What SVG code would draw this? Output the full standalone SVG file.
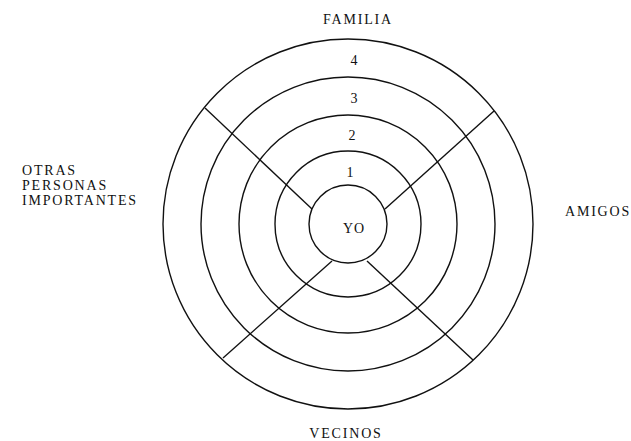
<svg xmlns="http://www.w3.org/2000/svg" width="631" height="441" viewBox="0 0 631 441">
<style>
.ring{fill:none;stroke:#111;stroke-width:1.4}
.spoke{stroke:#111;stroke-width:1.4;fill:none}
text{font-family:"Liberation Serif","Times New Roman",serif;font-size:14px;fill:#111}
.lab{letter-spacing:1.8px}
.num{text-anchor:middle}
</style>
<rect width="631" height="441" fill="#fff"/>
<g id="rings">
<circle class="ring" cx="348" cy="224" r="185"/>
<circle class="ring" cx="348" cy="224" r="147"/>
<circle class="ring" cx="348" cy="224" r="109"/>
<circle class="ring" cx="348" cy="224" r="73"/>
</g>
<g id="connectors">
<line class="spoke" x1="312" y1="209" x2="205" y2="108"/>
<line class="spoke" x1="385" y1="209" x2="494" y2="111"/>
<line class="spoke" x1="332" y1="261" x2="223" y2="358"/>
<line class="spoke" x1="367" y1="261" x2="473" y2="360"/>
</g>
<g id="yo">
<circle class="ring" cx="348" cy="224" r="39"/>
<text x="354" y="233" class="num" style="letter-spacing:1px">YO</text>
</g>
<g id="numbers">
<text x="354" y="65" class="num">4</text>
<text x="354" y="103" class="num">3</text>
<text x="352" y="140" class="num">2</text>
<text x="350" y="177" class="num">1</text>
</g>
<g id="familia"><text x="358" y="24" class="num lab">FAMILIA</text></g>
<g id="otras">
<text x="22" y="175" class="lab">OTRAS</text>
<text x="22" y="190" class="lab">PERSONAS</text>
<text x="22" y="205" class="lab">IMPORTANTES</text>
</g>
<g id="amigos"><text x="565" y="216" class="lab">AMIGOS</text></g>
<g id="vecinos"><text x="346" y="438" class="num lab">VECINOS</text></g>
</svg>
